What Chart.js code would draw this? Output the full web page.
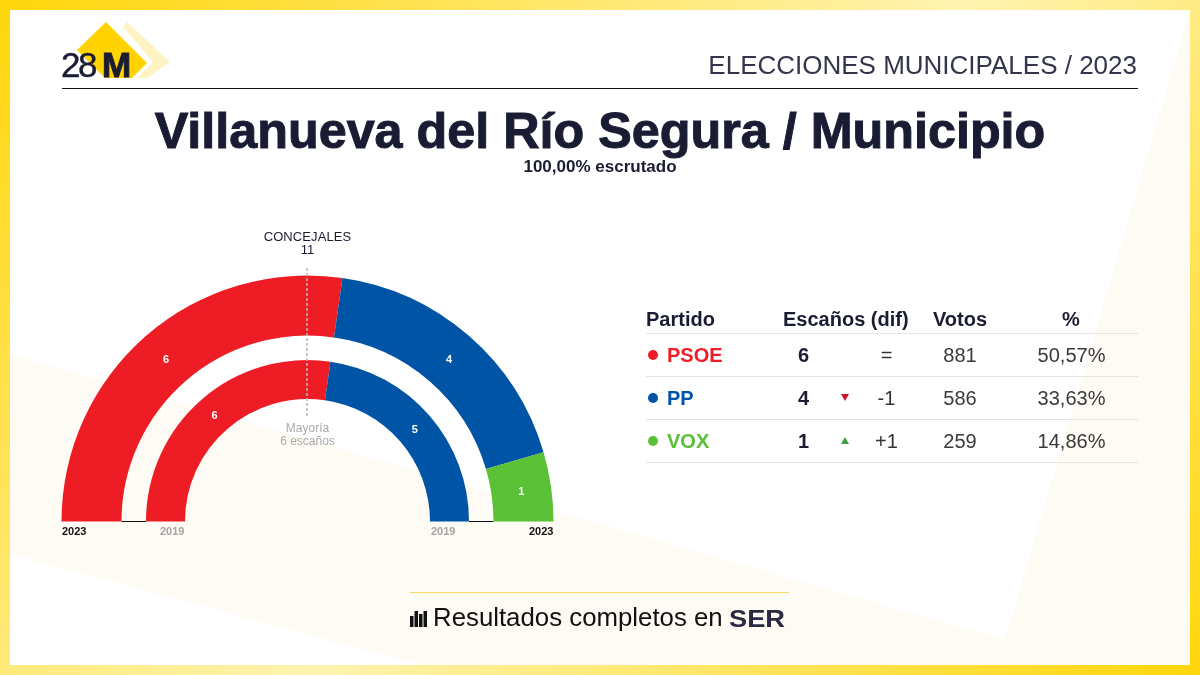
<!DOCTYPE html>
<html lang="es"><head><meta charset="utf-8">
<script src="https://cdn.jsdelivr.net/npm/chart.js@4"></script>
<style>
html,body{margin:0;padding:0;width:1200px;height:675px;overflow:hidden;font-family:"Liberation Sans",Arial,sans-serif}
#bg{position:absolute;left:0;top:0}
#c{position:absolute;left:0;top:0}
.t{position:absolute;white-space:nowrap;line-height:1}
.c{transform:translateX(-50%)}
.r{position:absolute;height:1px;background:#e6e5e0;left:646px;width:492px}
</style></head><body>
<svg id="bg" width="1200" height="675" xmlns="http://www.w3.org/2000/svg">
<defs><linearGradient id="g" gradientUnits="userSpaceOnUse" x1="94" y1="-156" x2="1106" y2="831">
<stop offset="0" stop-color="#ffd400"/><stop offset=".52" stop-color="#fff3b0"/><stop offset="1" stop-color="#ffd400"/></linearGradient></defs>
<rect width="1200" height="675" fill="url(#g)"/>
<rect x="10" y="10" width="1180" height="655" fill="#fefbf4"/>
<polygon points="10,10 1190,10 1005,640 10,354" fill="#fff"/>
<polygon points="10,554 10,665 420,665" fill="#fff"/>
<polygon points="127,22 170,62 147,78 137,78 153,62 123,27" fill="#fff3c4"/>
<polygon points="106,22 147,63 132,78 105,78 77,50" fill="#ffd200"/>
<rect x="62" y="88" width="1076" height="1" fill="#111"/>
<rect x="410" y="592" width="379" height="1" fill="#f3dc6a"/>
<g fill="#111"><rect x="410" y="616" width="3.5" height="11"/><rect x="414.5" y="611" width="3.5" height="16"/><rect x="419" y="614" width="3.5" height="13"/><rect x="423.5" y="611" width="3.5" height="16"/></g>
</svg>
<canvas id="c" width="1200" height="675"></canvas>
<div id="txt"></div>
<script>
const parties=["PSOE","PP","VOX"];
const partyColors=["#ee1c25","#0054a6","#5ac035"];
const seats2023=[6,4,1];
const seats2019=[6,5,0];
const seatDiff=["=","-1","+1"];
const diffArrow=["","down","up"];
const votes=["881","586","259"];
const percents=["50,57%","33,63%","14,86%"];
const headers=["Partido","Escaños (dif)","Votos","%"];
const totalSeats="11";
const majority="6 escaños";
const years=["2023","2019","2019","2023"];

const baseLine={id:'baseLine',beforeDatasetsDraw(ch){
  const a=ch.getDatasetMeta(0).data[0],b=ch.getDatasetMeta(2).data[0],x=ch.ctx;
  x.save();x.strokeStyle='#111';x.lineWidth=1;x.beginPath();
  [-1,1].forEach(s=>{x.moveTo(a.x+s*a.innerRadius,a.y);x.lineTo(a.x+s*b.outerRadius,a.y)});
  x.stroke();x.restore();
}};
const overlay={id:'overlay',afterDatasetsDraw(ch){
  const x=ch.ctx,a=ch.getDatasetMeta(0).data[0];
  x.save();x.strokeStyle='#b8b8b8';x.lineWidth=1.5;x.setLineDash([3,2]);x.beginPath();
  x.moveTo(307,268);x.lineTo(307,417);x.stroke();x.setLineDash([]);
  x.fillStyle='#fff';x.font='bold 11px "Liberation Sans"';x.textAlign='center';x.textBaseline='middle';
  [0,2].forEach(d=>ch.getDatasetMeta(d).data.forEach((el,i)=>{
    const v=ch.data.datasets[d].data[i];if(!v)return;
    const p=el.tooltipPosition();x.fillText(String(v),p.x,p.y+1.5);
  }));
  x.restore();
}};
new Chart(document.getElementById('c'),{type:'doughnut',
  data:{labels:parties,datasets:[
    {label:'2023',data:seats2023,backgroundColor:partyColors,borderWidth:0,weight:60},
    {label:'',data:[],weight:24.5,borderWidth:0},
    {label:'2019',data:seats2019,backgroundColor:partyColors,borderWidth:0,weight:39}
  ]},
  options:{responsive:false,animation:false,rotation:-90,circumference:180,cutout:'49.8%',
    layout:{padding:{left:61.5,right:646.5,top:275.5,bottom:153.5}},
    plugins:{legend:{display:false},tooltip:{enabled:false}}},
  plugins:[baseLine,overlay]});

const box=document.getElementById('txt');
function T(s,x,y,size,o={}){const e=document.createElement('div');e.className='t';e.textContent=s;
  e.style.cssText=`left:${x}px;top:${y}px;font-size:${size}px;color:${o.c||'#1a1c33'};font-weight:${o.b?'bold':'normal'};`+(o.x||'');
  if(o.center)e.classList.add('c');if(o.right){e.style.left='auto';e.style.right=(1200-x)+'px';}
  box.appendChild(e);return e;}
T("28",61,47,35,{c:'#1a1c33',x:'letter-spacing:-2.4px;-webkit-text-stroke:.4px #1a1c33;'});
T("M",102,47,35,{b:1,c:'#1a1c33',x:'-webkit-text-stroke:1px #1a1c33;'});
T("ELECCIONES MUNICIPALES / 2023",1137,52,26,{right:1,c:'#33364a'});
T("Villanueva del Río Segura / Municipio",600,106,50.3,{b:1,center:1,x:'-webkit-text-stroke:1px #1a1c33;'});
T("100,00% escrutado",600,158,17,{b:1,center:1});
T("CONCEJALES",307.5,230,13,{center:1,x:'letter-spacing:.1px;'});
T(totalSeats,307.5,243,13,{center:1});
T("Mayoría",307.5,422,12,{center:1,c:'#aaa'});
T(majority,307.5,435,12,{center:1,c:'#aaa'});
[[62,0],[160,1],[431,1],[529,0]].forEach((p,i)=>T(years[i],p[0],526,11,{b:1,c:p[1]?'#a5a5a5':'#111'}));
T(headers[0],646,309,20,{b:1});T(headers[1],783,309,20,{b:1});T(headers[2],933,309,20,{b:1});T(headers[3],1071,309,20,{b:1,center:1});
[333,376,419,462].forEach(y=>{const r=document.createElement('div');r.className='r';r.style.top=y+'px';box.appendChild(r);});
parties.forEach((p,i)=>{const y=345+43*i,col=partyColors[i];
  const d=document.createElement('div');d.style.cssText=`position:absolute;left:648px;top:${y+5}px;width:10px;height:10px;border-radius:50%;background:${col}`;box.appendChild(d);
  T(p,667,y,20,{b:1,c:col});
  T(String(seats2023[i]),803.5,y,20,{b:1,center:1});
  if(diffArrow[i]){const a=document.createElement('div');const up=diffArrow[i]==='up';
    a.style.cssText=`position:absolute;left:841px;top:${y+6}px;width:0;height:0;border-left:4px solid transparent;border-right:4px solid transparent;`+(up?'border-bottom:7px solid #3f9f45':'border-top:7px solid #c8102e');box.appendChild(a);}
  T(seatDiff[i],886.5,y,20,{center:1,c:'#333'});
  T(votes[i],960,y,20,{center:1,c:'#3a3a3a'});
  T(percents[i],1071.5,y,20,{center:1,c:'#3a3a3a'});
});
T("Resultados completos en",433,605,25.8,{c:'#111'});
T("SER",729,607,25,{b:1,c:'#2a2a40',x:'transform-origin:left top;transform:scale(1.09,.95);'});
</script></body></html>
